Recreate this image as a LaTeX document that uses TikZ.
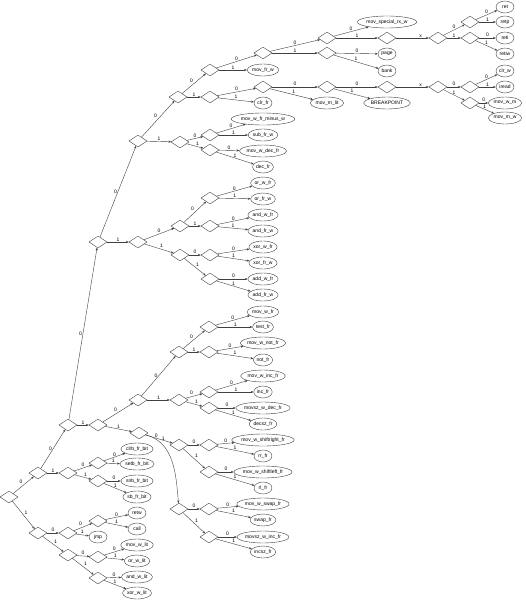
\documentclass[tikz,border=0pt]{standalone}
\usepackage{fontspec}
\setmainfont{Liberation Sans}
\usetikzlibrary{shapes.geometric,arrows.meta}
\newcommand\lnk[4][above]{\draw[ar] (#2) -- node[lb,#1]{#4} (#3);}
\begin{document}
\begin{tikzpicture}[x=1pt,y=-1pt,
  dm/.style={diamond,draw=black!75,line width=0.4pt,minimum width=18pt,minimum height=12pt,inner sep=0pt},
  lf/.style={ellipse,draw=black!75,line width=0.4pt,minimum width=18pt,minimum height=12pt,inner sep=0.4pt,font=\fontsize{5}{6}\selectfont},
  ar/.style={draw=black!75,line width=0.4pt,-{Stealth[length=2.8pt,width=2.2pt]}},
  lb/.style={font=\fontsize{5}{6}\selectfont,inner sep=0.8pt}]
\useasboundingbox (0,0) rectangle (526,600);
% diamonds
\node[dm] (r) at (9,497) {};
\node[dm] (r0) at (38,473) {};
\node[dm] (r1) at (38,533) {};
\node[dm] (a) at (68,425) {};
\node[dm] (r01) at (68,473) {};
\node[dm] (r010) at (98,463) {};
\node[dm] (r011) at (98,481) {};
\node[dm] (r10) at (68,533) {};
\node[dm] (r11) at (68,555) {};
\node[dm] (r100) at (98,521) {};
\node[dm] (r110) at (98,557) {};
\node[dm] (r111) at (98,578) {};
\node[dm] (b) at (98,242) {};
\node[dm] (c) at (98,425) {};
\node[dm] (c0) at (138,400) {};
\node[dm] (c1) at (139,433) {};
\node[dm] (c00) at (179,352) {};
\node[dm] (c01) at (179,400) {};
\node[dm] (c000) at (209,327) {};
\node[dm] (c001) at (209,352) {};
\node[dm] (c010) at (209,392) {};
\node[dm] (c011) at (209,408) {};
\node[dm] (c10) at (179,445) {};
\node[dm] (c11) at (179,509) {};
\node[dm] (c100) at (209,445) {};
\node[dm] (c101) at (209,472) {};
\node[dm] (c110) at (209,509) {};
\node[dm] (c111) at (209,537) {};
\node[dm] (d) at (138,141) {};
\node[dm] (e) at (138,242) {};
\node[dm] (f) at (178,97) {};
\node[dm] (g) at (180,142) {};
\node[dm] (h) at (210,70) {};
\node[dm] (i) at (210,97) {};
\node[dm] (j) at (263,53) {};
\node[dm] (k) at (327,38) {};
\node[dm] (l) at (327,53) {};
\node[dm] (m) at (387,38) {};
\node[dm] (n) at (438,38) {};
\node[dm] (o) at (470,22) {};
\node[dm] (p) at (470,38) {};
\node[dm] (q) at (263,87) {};
\node[dm] (s0) at (327,87) {};
\node[dm] (s) at (387,87) {};
\node[dm] (t) at (438,87) {};
\node[dm] (u) at (470,87) {};
\node[dm] (v) at (470,103) {};
\node[dm] (w) at (210,135) {};
\node[dm] (x2) at (210,150) {};
\node[dm] (y) at (180,226) {};
\node[dm] (z) at (180,255) {};
\node[dm] (y0) at (210,198) {};
\node[dm] (y1) at (210,226) {};
\node[dm] (z0) at (210,255) {};
\node[dm] (z1) at (210,279) {};
% leaves
\node[lf] (Lret) at (505,7) {ret};
\node[lf] (Lretp) at (505,22) {retp};
\node[lf] (Lreti) at (505,38) {reti};
\node[lf] (Lretiw) at (505,54) {retiw};
\node[lf] (Lclrw) at (505,71) {clr\_w};
\node[lf] (Liread) at (505,87) {iread};
\node[lf] (Lmovwm) at (505,103) {mov\_w\_m};
\node[lf] (Lmovmw) at (505,118) {mov\_m\_w};
\node[lf] (Lspec) at (387,22) {mov\_special\_rx\_w};
\node[lf] (Lpage) at (387,54) {page};
\node[lf] (Lbank) at (387,71) {bank};
\node[lf] (Lbrk) at (387,103) {BREAKPOINT};
\node[lf] (Lmovmlit) at (327,103) {mov\_m\_lit};
\node[lf] (Lmovfrw) at (263,70) {mov\_fr\_w};
\node[lf] (Lclrfr) at (263,103) {clr\_fr};
\node[lf] (Lmwfmw) at (263,119) {mov\_w\_fr\_minus\_w};
\node[lf] (Lsubfrw) at (263,135) {sub\_fr\_w};
\node[lf] (Lmwdecfr) at (263,151) {mov\_w\_dec\_fr};
\node[lf] (Ldecfr) at (263,167) {dec\_fr};
\node[lf] (Lorwfr) at (263,183) {or\_w\_fr};
\node[lf] (Lorfrw) at (263,199) {or\_fr\_w};
\node[lf] (Landwfr) at (263,215) {and\_w\_fr};
\node[lf] (Landfrw) at (263,231) {and\_fr\_w};
\node[lf] (Lxorwfr) at (263,247) {xor\_w\_fr};
\node[lf] (Lxorfrw) at (263,263) {xor\_fr\_w};
\node[lf] (Laddwfr) at (263,279) {add\_w\_fr};
\node[lf] (Laddfrw) at (263,295) {add\_fr\_w};
\node[lf] (Lmovwfr) at (263,312) {mov\_w\_fr};
\node[lf] (Ltestfr) at (263,327) {test\_fr};
\node[lf] (Lmwnotfr) at (263,343) {mov\_w\_not\_fr};
\node[lf] (Lnotfr) at (263,360) {not\_fr};
\node[lf] (Lmwincfr) at (263,376) {mov\_w\_inc\_fr};
\node[lf] (Lincfr) at (263,392) {inc\_fr};
\node[lf] (Lmszdec) at (263,408) {movsz\_w\_dec\_fr};
\node[lf] (Ldecszfr) at (263,424) {decsz\_fr};
\node[lf] (Lmwsr) at (263,440) {mov\_w\_shiftright\_fr};
\node[lf] (Lrrfr) at (263,456) {rr\_fr};
\node[lf] (Lmwsl) at (263,472) {mov\_w\_shiftleft\_fr};
\node[lf] (Lrlfr) at (263,488) {rl\_fr};
\node[lf] (Lmwswap) at (263,504) {mov\_w\_swap\_fr};
\node[lf] (Lswapfr) at (263,520) {swap\_fr};
\node[lf] (Lmszinc) at (263,537) {movsz\_w\_inc\_fr};
\node[lf] (Lincszfr) at (263,552) {incsz\_fr};
\node[lf] (Lclrb) at (137,449) {clrb\_fr\_bit};
\node[lf] (Lsetb) at (137,464) {setb\_fr\_bit};
\node[lf] (Lsnb) at (137,481) {snb\_fr\_bit};
\node[lf] (Lsb) at (137,497) {sb\_fr\_bit};
\node[lf] (Lretw) at (137,513) {retw};
\node[lf] (Lcall) at (137,529) {call};
\node[lf] (Ljmp) at (98,537) {jmp};
\node[lf] (Lmovwlit) at (137,545) {mov\_w\_lit};
\node[lf] (Lorwlit) at (137,561) {or\_w\_lit};
\node[lf] (Landwlit) at (137,577) {and\_w\_lit};
\node[lf] (Lxorwlit) at (137,593) {xor\_w\_lit};
% edges
\lnk[above left]{r}{r0}{0}
\lnk[above right]{r}{r1}{1}
\lnk[left]{r0}{a}{0}
\lnk{r0}{r01}{1}
\lnk{r01}{r010}{0}
\lnk[above right]{r01}{r011}{1}
\lnk{r010}{Lclrb}{0}
\lnk{r010}{Lsetb}{1}
\lnk{r011}{Lsnb}{0}
\lnk{r011}{Lsb}{1}
\lnk{r1}{r10}{0}
\lnk[above right]{r1}{r11}{1}
\lnk[above left]{r10}{r100}{0}
\lnk{r10}{Ljmp}{1}
\lnk{r100}{Lretw}{0}
\lnk{r100}{Lcall}{1}
\lnk{r11}{r110}{0}
\lnk[above right]{r11}{r111}{1}
\lnk{r110}{Lmovwlit}{0}
\lnk{r110}{Lorwlit}{1}
\lnk{r111}{Landwlit}{0}
\lnk{r111}{Lxorwlit}{1}
\lnk[left]{a}{b}{0}
\lnk{a}{c}{1}
\lnk[above left]{c}{c0}{0}
\lnk{c}{c1}{1}
\lnk[left]{c0}{c00}{0}
\lnk{c0}{c01}{1}
\lnk[above left]{c00}{c000}{0}
\lnk{c00}{c001}{1}
\lnk[above left]{c01}{c010}{0}
\lnk[above right]{c01}{c011}{1}
\lnk{c000}{Lmovwfr}{0}
\lnk{c000}{Ltestfr}{1}
\lnk{c001}{Lmwnotfr}{0}
\lnk{c001}{Lnotfr}{1}
\lnk{c010}{Lmwincfr}{0}
\lnk{c010}{Lincfr}{1}
\lnk{c011}{Lmszdec}{0}
\lnk{c011}{Ldecszfr}{1}
\draw[ar] (c1) -- node[lb,pos=0.4,above]{0} (c10);
\draw[ar] (c1) to[out=-15,in=95] node[lb,pos=0.2,above right,xshift=1pt]{1} (c11);
\lnk{c10}{c100}{0}
\lnk[above right]{c10}{c101}{1}
\lnk{c11}{c110}{0}
\lnk[above right]{c11}{c111}{1}
\lnk{c100}{Lmwsr}{0}
\lnk{c100}{Lrrfr}{1}
\lnk{c101}{Lmwsl}{0}
\lnk{c101}{Lrlfr}{1}
\lnk{c110}{Lmwswap}{0}
\lnk{c110}{Lswapfr}{1}
\lnk{c111}{Lmszinc}{0}
\lnk{c111}{Lincszfr}{1}
\lnk[left]{b}{d}{0}
\lnk{b}{e}{1}
\lnk[above left]{d}{f}{0}
\lnk{d}{g}{1}
\lnk[above left]{f}{h}{0}
\lnk{f}{i}{1}
\lnk{h}{j}{0}
\lnk{h}{Lmovfrw}{1}
\lnk{j}{k}{0}
\lnk{j}{l}{1}
\lnk{k}{Lspec}{0}
\lnk{k}{m}{1}
\draw[ar] (m) -- node[lb,pos=0.75,above]{x} (n);
\lnk{n}{o}{0}
\lnk{n}{p}{1}
\lnk{o}{Lret}{0}
\lnk{o}{Lretp}{1}
\lnk{p}{Lreti}{0}
\lnk{p}{Lretiw}{1}
\lnk{l}{Lpage}{0}
\lnk{l}{Lbank}{1}
\lnk{i}{q}{0}
\lnk{i}{Lclrfr}{1}
\lnk{q}{s0}{0}
\lnk[above right]{q}{Lmovmlit}{1}
\lnk{s0}{s}{0}
\lnk{s0}{Lbrk}{1}
\draw[ar] (s) -- node[lb,pos=0.75,above]{x} (t);
\lnk{t}{u}{0}
\lnk{t}{v}{1}
\lnk{u}{Lclrw}{0}
\lnk{u}{Liread}{1}
\lnk{v}{Lmovwm}{0}
\lnk{v}{Lmovmw}{1}
\lnk{g}{w}{0}
\lnk[above right]{g}{x2}{1}
\lnk{w}{Lmwfmw}{0}
\lnk{w}{Lsubfrw}{1}
\lnk{x2}{Lmwdecfr}{0}
\lnk{x2}{Ldecfr}{1}
\lnk{e}{y}{0}
\lnk[above right]{e}{z}{1}
\lnk[above left]{y}{y0}{0}
\lnk{y}{y1}{1}
\lnk{z}{z0}{0}
\lnk[above right]{z}{z1}{1}
\lnk{y0}{Lorwfr}{0}
\lnk{y0}{Lorfrw}{1}
\lnk{y1}{Landwfr}{0}
\lnk{y1}{Landfrw}{1}
\lnk{z0}{Lxorwfr}{0}
\lnk{z0}{Lxorfrw}{1}
\lnk{z1}{Laddwfr}{0}
\lnk{z1}{Laddfrw}{1}
\end{tikzpicture}
\end{document}
